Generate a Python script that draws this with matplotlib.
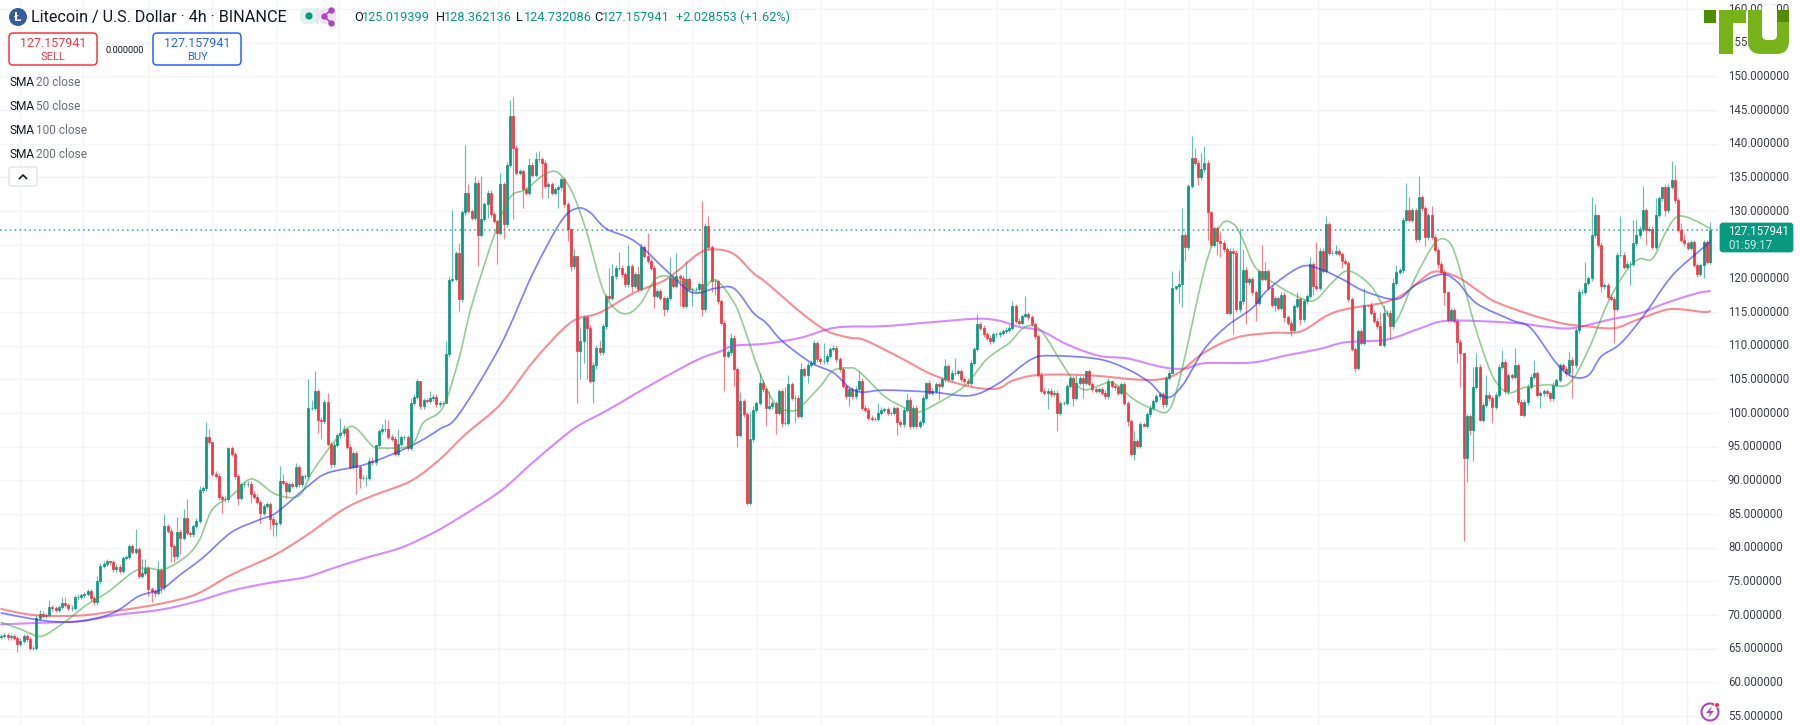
import matplotlib
matplotlib.use("Agg")
import matplotlib.pyplot as plt
from matplotlib.patches import Rectangle, FancyBboxPatch, Circle, Polygon, PathPatch
from matplotlib.path import Path

plt.rcParams['font.family'] = ['Roboto', 'DejaVu Sans']

CLOSE = [
66.9,67.0,66.7,66.9,66.6,65.7,66.2,66.9,66.4,65.1,
65.1,69.6,70.2,69.9,70.0,71.2,71.0,70.8,71.2,71.8,
71.5,71.0,71.1,72.6,72.7,72.9,73.1,73.5,72.5,71.9,
75.0,77.3,77.6,78.0,77.8,76.8,77.2,76.6,78.5,78.6,
80.2,79.4,79.8,75.8,76.3,77.0,73.8,73.5,73.3,76.7,
74.1,83.2,82.5,80.2,78.7,82.4,81.5,84.4,82.2,82.0,
83.2,84.0,88.5,88.8,96.5,95.7,91.0,90.7,87.5,87.3,
87.2,94.8,93.9,90.6,87.4,89.4,89.4,89.5,88.0,87.6,
86.8,85.2,86.2,86.5,84.3,83.5,83.7,89.9,89.6,88.4,
89.4,89.2,92.0,89.4,90.6,90.6,100.8,100.8,103.2,99.0,
98.8,101.7,95.4,92.4,95.3,96.7,97.0,97.6,95.0,92.0,
94.0,92.0,90.4,90.4,90.4,92.9,92.7,95.3,97.3,97.6,
97.6,96.5,96.2,93.9,95.4,96.4,96.4,94.8,101.5,102.4,
104.7,101.0,101.9,101.8,102.2,102.4,101.3,101.5,101.5,108.7,
119.8,119.9,123.8,116.9,129.8,132.7,130,129,134.2,126.5,
128.8,131,132.7,129.5,128.5,126.8,134,128,136.9,144.1,
139.4,135.7,135.9,133.2,132.7,136.9,135.4,137.7,137.7,137.2,
133.7,134,132.7,133.2,133.5,134.7,131,127.3,121.8,123.3,
109.2,110.7,114.2,112.7,104.8,107.2,109.7,109,112.9,117.4,
117.1,120.3,121.6,121.6,120.6,119.1,121.8,118.9,120.6,118.4,
124.6,123.3,122.6,121.6,117.4,118.1,117.1,115.4,117.1,120.1,
118.9,120.3,120.1,115.9,119.9,118.4,118.4,118.4,119.1,115.4,
127.8,124.6,119.6,119.6,116.6,113.4,108.5,109,111.2,106.5,
96.8,101.8,99.8,86.7,96.1,100.5,101.5,104.5,103.5,100.8,
101,101.5,100,103.2,98.5,98.5,104.3,102.3,102.3,99.6,
106.5,105.7,107.2,107.5,110.4,108,107.7,107.7,108.5,109.5,
109.7,108,106.5,104,102.5,103.5,102.5,103.6,104.8,100.8,
100.5,99.3,99.1,99.1,100,100.5,100.6,100,100,100.7,
98.6,98.3,100.5,102,98.1,100.8,98.1,98.6,102.3,104.5,
103,103.3,104.3,104,105,107,105,106,106,106.2,
105,104.8,104.5,107.5,109.5,113.2,112.7,111.7,111.2,110.7,
111.7,111.7,111.9,112.2,112.4,112.7,115.9,113.7,113.4,114.4,
114.7,114.2,113.2,111.4,105.7,103.3,103,103.3,102.8,103,
100,101.5,101.5,104,105.2,102.3,104.5,105.2,104.5,106.2,
104.3,103.5,103.3,103.5,103,102.5,104.8,104,103.8,103,
104.3,101.5,98.8,93.9,95.8,95.1,98.3,98.1,99.8,100.8,
101.8,102.5,102.8,101.3,105.2,106,118.6,118.9,119.1,126.5,
124.6,133.7,137.9,137.2,135,136.2,137.2,129.8,125,127.5,
125.5,125.3,124.3,114.9,124.1,123.8,115.4,116.6,121.3,119.4,
119.9,117.9,116.4,121.1,119.9,121.1,118.6,116.1,117.1,115.6,
117.6,114.2,113.4,112.4,115.9,116.9,113.9,116.6,117.4,122.1,
118.9,118.6,124.1,121.1,128,123.8,123.8,124.1,123.6,122.6,
122.3,116.9,109.5,106.7,112.2,110.4,116.1,116.1,114.9,113.7,
112.9,110.1,114.8,114.9,112.9,119.3,121,121.2,128.7,130.1,
128.7,130.1,125.8,132.1,130.4,126.1,129.4,126.2,124.2,122.2,
121,118,113.8,115.3,113.7,110.6,108.9,93.3,99.5,97.5,
103.9,106.9,99,101.2,102.7,102.2,100.9,102.7,106.9,107.6,
103.2,105.6,105.4,107.1,101.7,99.7,101.7,103.9,105.4,105.9,
102.7,102.9,103.2,102.9,102.2,104.2,104.9,107.1,106.6,105.9,
107.9,107.1,112.3,118,118,119.3,120,126.4,129.4,125,
118.8,119,117.3,117,115.5,123.5,123.5,121.7,122.2,122.2,
125.2,126.4,127.4,130.1,127.2,127.4,124.7,129.4,131.9,133.6,
130.1,133.6,134.6,131.6,127.2,125.7,125.2,124.5,125.4,122,
120.7,122,125.4,122.5,127.16]
FIRST_OPEN = 66.8

HIGHS = {12:70.8,15:72.3,19:72.6,20:72.6,23:73,27:73.8,28:73.8,30:75.8,31:77.7,33:78.3,34:78,38:78.8,40:80.5,
42:82.7,44:78.3,45:78.3,49:78,51:85,52:83.5,55:84.5,57:85.8,58:87.3,62:89.2,64:98.6,65:97.6,66:92,71:95,76:89.9,
87:92.1,88:90.9,92:92.6,96:105,97:102,98:106.2,102:103,106:99.3,107:98.2,115:93.4,116:93.4,117:93.9,119:98.3,
120:99.1,121:99,124:97.6,128:102.3,130:105,131:104.8,134:103.3,139:110.7,141:130.2,142:124,143:125.2,145:139.8,
146:134,148:135.2,150:135.2,156:135.7,159:146.5,160:147,165:137.9,167:138.7,168:138.9,178:127.3,179:124.3,
180:121.8,181:112.8,187:110.8,190:121.5,191:122.1,193:123.9,196:124.9,199:121.8,200:125.3,202:126.8,209:123.1,
211:123.8,214:122.6,219:131.5,221:129.2,228:111.9,231:103.1,234:100.1,235:101,237:106,240:103.2,245:103.8,
246:105.7,250:107.4,254:110.8,257:110.4,268:106.2,274:101.5,283:102.9,289:104.6,295:108,298:108.2,305:114.7,
316:116.6,320:117.4,334:105.4,336:105.7,339:106.2,347:104.7,354:97.3,358:100.1,366:121.1,367:117.9,368:121.3,
369:130.5,372:141.2,373:139.4,375:138.6,376:139.7,378:130,381:127.1,387:127.5,388:124.4,389:121.7,394:124.9,
395:122.5,405:118,409:123.2,411:125.4,414:129.3,417:124.9,426:118.5,427:115,431:115,432:116,435:120,436:122,
439:134.1,440:132.1,443:135.2,447:130.8,452:116.3,457:107.3,460:106.9,461:108.9,464:105.7,469:109.4,473:109.6,
479:107.9,490:109.1,495:122.5,497:132.1,498:131.1,499:129.6,506:129.2,510:128.6,511:128.8,513:133.7,517:131.9,
519:133.6,522:137.4,523:136.8,525:128.2,526:126.6,534:128.3}

LOWS = {5:64.5,47:72,48:72.6,46:72.8,50:73.3,53:77.8,54:77.8,56:79,69:85.2,74:86.4,78:86.7,81:83.7,84:82.7,85:81.7,
86:81.7,89:87.2,99:97,100:96.2,103:91.9,111:87.9,112:88.9,114:89.2,139:105.7,143:115.1,149:121.8,152:129,155:122.1,
157:125.8,160:128.8,163:130.5,169:132,171:132,174:130.5,177:125.5,178:121.1,180:101.5,181:105,182:107.5,183:105,
185:101.5,186:106.5,197:117.9,204:115.6,207:114.4,212:115.9,216:115.9,219:114.4,222:118,223:117.5,226:103.3,
229:104,230:94.9,239:98,242:96.9,244:97.9,248:98.6,252:104.4,265:101.1,269:100.5,272:98.8,280:96.8,284:97.6,
286:97.8,293:102,309:110.2,327:100.6,330:97.3,335:101,338:102.2,352:98,354:93,357:98,363:100.8,366:113,368:116.4,
369:115.8,370:122.6,374:133.9,377:125.7,380:123.5,381:123.2,383:114.9,385:111.7,389:113.2,392:113.7,398:115.1,
401:113.5,403:111.4,406:113,410:117.5,419:121.5,423:106.1,431:110.1,434:111,445:124.8,449:121.5,451:116,
455:107.4,456:103.9,457:81,458:89.8,459:96.8,460:92.8,462:98.8,466:98.5,474:101.2,475:99.7,477:101.2,481:100.7,
491:102.3,500:118,504:110.4,509:119,514:125,520:129.3,530:120.2,532:120}

SMA200_X = [0,10,25,36,50,61,72,83,95,104,114,125,135,143,156,166,176,181,189,198,208,218,225,229,239,250,261,276,291,
305,312,318,325,333,343,352,363,370,376,391,402,412,420,433,443,452,472,483,491,502,512,520,530,534]
SMA200_Y = [68.6,68.8,69.1,70,70.8,72,73.6,74.7,75.6,77,78.5,80,82.2,84.4,88.4,92.6,96.6,98.3,100.3,102.8,105.5,108,109.2,
110,110.3,111.2,112.7,112.9,113.5,114,113.7,112.8,112.2,110.2,108.5,108.1,106.8,106.6,107.4,107.5,108.6,109.5,110.5,
110.9,112.5,113.7,113.4,112.8,112.6,113.8,114.8,116.3,117.8,118.1]

SMA100_X = [0,10,24,36,50,61,72,85,95,107,116,128,137,145,156,166,175,180,187,198,208,218,223,229,235,239,250,258,265,
270,281,291,302,311,316,323,333,343,354,362,368,376,386,397,406,414,420,432,438,443,448,455,462,467,478,488,495,504,511,520,525,532,534]
SMA100_Y = [70.9,70,69.9,70.6,71.7,73.1,76,78.8,81.7,85.7,87.7,89.9,93.1,96.8,101.3,107.5,112.2,114,114.9,117.9,119.9,123.7,
124.3,123.6,120.8,119.4,114.9,112.2,111.2,110.8,108.2,105.7,104,103.6,104.8,105.6,105.7,105.5,105,105,106,109,111.2,111.9,
112.1,114.4,115.4,116.4,117.6,119.5,121,120.2,118,116.5,114.6,113.3,112.9,112.6,113.8,115.3,115.4,115,115.1]

SMA50_X = [0,10,17,25,35,43,50,56,63,72,81,86,96,102,114,128,137,143,156,166,175,180,184,189,198,208,216,223,229,235,239,244,
253,260,265,269,276,291,303,312,322,329,343,352,359,364,369,376,383,391,396,406,412,419,426,436,442,450,455,461,472,478,486,
491,496,500,506,513,522,531,534]
SMA50_Y = [70.3,69.4,69,69.1,70.3,72.8,73.8,76,78.5,82.3,84.2,85.2,89.2,91.1,92.4,95.1,97.6,99.8,110,120.6,128.5,130.4,129.8,
127.4,125.5,121.1,117.9,118.5,118.5,114.9,113.4,110.7,107.5,106,103.8,103.1,103.4,103.1,102.6,104.5,108,108.5,108,106.5,
104.5,102.3,104,109.5,112.9,115.6,118.4,121.7,121.4,119.9,118.1,116.9,119,120.6,119.5,116.3,113.8,112.6,107.4,105.4,105.6,
108.4,110.3,114.3,120.3,124.2,125.4]

SMA20_X = [0,6,11,14,20,27,33,41,45,51,58,62,66,72,77,80,86,93,97,103,108,111,116,119,128,132,138,143,147,154,159,164,169,173,
176,179,183,188,192,196,200,205,211,218,223,229,232,237,242,247,250,256,260,265,268,276,281,286,292,301,308,315,320,325,
332,338,347,354,360,365,369,376,381,385,388,392,399,407,411,416,421,428,433,436,442,448,452,455,460,464,467,471,476,483,
490,496,502,508,512,516,520,523,526,531,534]
SMA20_Y = [68.9,67.9,66.9,67.1,69,71.6,73.3,76.3,77,76.8,78.8,81.2,85.7,87.7,90,89.9,87.9,87.7,91.1,95.1,97.7,97.7,95.1,94.8,
95.2,98.6,100.8,108,115.9,126.3,132,133.2,135.2,135.9,134.7,132.2,126.8,118.4,115.4,114.8,116.4,120.1,119.9,117.9,119.8,
116.4,112.9,106,101.3,100.3,101,104,106.3,106.7,106.2,102.5,101.1,100.1,101.3,104,108,110.4,112.8,112.2,107,103.5,104.5,
102,100.6,100.5,106.5,121.3,127.8,128.1,125.8,121.6,118.9,116.9,116.9,119.4,121.1,118.9,114.9,113.7,120.2,125.2,125.6,
122.7,113.8,107.9,104.7,103,103.8,104.2,104.4,109.4,116.3,121.2,122.9,122.9,126.7,128.9,129.2,128.2,127.4]

PRICE_TICKS = list(range(55, 165, 5))
LAST_PRICE = 127.157941
GRID_BARS = [5.9,25.6,45.9,65.9,85.9,105.6,135.6,155.6,175.9,195.9,215.9,236.2,256.2,291.2,311.2,331.2,351.2,371.2,
391.2,411.5,446.5,466.8,486.2,506.5,526.8]
TITLE = "Litecoin / U.S. Dollar · 4h · BINANCE"
OHLC = [("O", "125.019399", 354), ("H", "128.362136", 436), ("L", "124.732086", 516), ("C", "127.157941", 594)]
CHANGE = "+2.028553 (+1.62%)"
SMA_LABELS = ["20 close", "50 close", "100 close", "200 close"]

UP, DOWN = "#089981", "#F23645"
W, H = 1800, 725
fig = plt.figure(figsize=(W/100, H/100), dpi=100, facecolor="white")

# main price pane: index -> px = 1.2 + 3.2 i, price -> py = 716 - (p-55)*6.733
ax = fig.add_axes([0, 0, 1718/W, 1])
ax.set_xlim(-0.375, 536.5)
ax.set_ylim(55 - 9/6.733, 55 + 716/6.733)
for s in ax.spines.values():
    s.set_visible(False)
ax.set_xticks(GRID_BARS)
ax.set_yticks(PRICE_TICKS)
ax.tick_params(axis="x", length=0, labelbottom=False)
ax.tick_params(axis="y", length=0, labelleft=False, labelright=False)
ax.grid(True, color="#f3f4f7", lw=1.0)
ax.set_axisbelow(True)

opens = [FIRST_OPEN] + CLOSE[:-1]
for i, (o, c) in enumerate(zip(opens, CLOSE)):
    col = UP if c >= o else DOWN
    top, bot = max(o, c), min(o, c)
    hi = max(HIGHS.get(i, top + 0.35), top)
    lo = min(LOWS.get(i, bot - 0.35), bot)
    ax.vlines(i, bot, hi, color=col, lw=0.85, alpha=0.62, zorder=2)
    ax.vlines(i, lo, top, color=col, lw=0.85, alpha=0.62, zorder=2)
    ax.bar(i, top - bot, width=0.62, bottom=bot, color=col, edgecolor=col, lw=0.5, zorder=3)


def smooth_line(axes, xs, ys, **kw):
    """Stroke a curve through the read values (Catmull-Rom handles on each span)."""
    pts = list(zip(xs, ys))
    verts, codes = [pts[0]], [Path.MOVETO]
    for k in range(len(pts) - 1):
        p0 = pts[max(k - 1, 0)]
        p1, p2 = pts[k], pts[k + 1]
        p3 = pts[min(k + 2, len(pts) - 1)]
        c1 = (p1[0] + (p2[0] - p0[0]) / 6, p1[1] + (p2[1] - p0[1]) / 6)
        c2 = (p2[0] - (p3[0] - p1[0]) / 6, p2[1] - (p3[1] - p1[1]) / 6)
        verts += [c1, c2, p2]
        codes += [Path.CURVE4] * 3
    axes.add_patch(PathPatch(Path(verts, codes), fc="none", capstyle="round", **kw))


smooth_line(ax, SMA200_X, SMA200_Y, ec="#b02cff", lw=1.5, alpha=0.55, zorder=4)
smooth_line(ax, SMA100_X, SMA100_Y, ec="#f5303f", lw=1.5, alpha=0.55, zorder=4)
smooth_line(ax, SMA50_X, SMA50_Y, ec="#2a2eff", lw=1.25, alpha=0.6, zorder=4)
smooth_line(ax, SMA20_X, SMA20_Y, ec="#3ea33e", lw=1.2, alpha=0.55, zorder=4)
ax.axhline(LAST_PRICE, color=UP, lw=1.1, ls=(0, (1, 2.2)), alpha=0.85, zorder=1.5)

# overlay in pixel coordinates
ov = fig.add_axes([0, 0, 1, 1], facecolor="none")
ov.set_xlim(0, W)
ov.set_ylim(H, 0)
ov.axis("off")


def py(p):
    return 716 - (p - 55) * 6.733


AXF = 8.3
for p in PRICE_TICKS:
    ov.text(1728, py(p), f"{p:.6f}", fontsize=AXF, color="#3c3f47", va="center", ha="left", zorder=2)

# current price tag
ov.add_patch(FancyBboxPatch((1721, 224), 71, 27, boxstyle="round,pad=0,rounding_size=2",
                            fc=UP, ec=UP, lw=2, zorder=3))
ov.text(1728, 231, f"{LAST_PRICE:.6f}", fontsize=AXF, color="white", va="center", zorder=4)
ov.text(1728, 245, "01:59:17", fontsize=AXF, color="#c5e8e2", va="center", zorder=4)

# header
ov.add_patch(Circle((18, 17), 9, fc="#345D9D", ec="none", zorder=3))
ov.text(18, 17, "Ł", fontsize=9.5, color="white", ha="center", va="center", weight="bold", zorder=4)
ov.text(31, 17, TITLE, fontsize=11.6, color="#131722", va="center", zorder=4)

ov.add_patch(FancyBboxPatch((300, 8), 17, 16, boxstyle="round,pad=0,rounding_size=6", fc="#dff2ee", ec="none", zorder=3))
ov.add_patch(FancyBboxPatch((319, 8), 17, 16, boxstyle="round,pad=0,rounding_size=6", fc="#f1e0f6", ec="none", zorder=3))
ov.add_patch(Rectangle((316, 8), 3, 16, fc="#e8e8f0", ec="none", zorder=3))
ov.add_patch(Circle((309, 16), 3.6, fc=UP, ec="none", zorder=4))
ov.plot([331, 324, 331], [10, 16, 23], color="#ab47bc", lw=1.2, zorder=4)
ov.plot([331, 324, 331], [10, 16, 23], ls="none", marker="o", ms=3.6, color="#ab47bc", zorder=4)

for k, v, x in OHLC:
    ov.text(x, 17, k, fontsize=9.2, color="#131722", va="center", zorder=4)
    ov.text(x + 8, 17, v, fontsize=9.2, color=UP, va="center", zorder=4)
ov.text(676, 17, CHANGE, fontsize=9.2, color=UP, va="center", zorder=4)

# sell / buy boxes
ov.add_patch(FancyBboxPatch((9, 33), 88, 32, boxstyle="round,pad=0,rounding_size=4", fc="white", ec=DOWN, lw=1.1, zorder=3))
ov.text(53, 43, "127.157941", fontsize=9, color=DOWN, ha="center", va="center", zorder=4)
ov.text(53, 57, "SELL", fontsize=8, color=DOWN, ha="center", va="center", zorder=4)
ov.text(125, 50, "0.000000", fontsize=6.7, color="#131722", ha="center", va="center", zorder=4)
ov.add_patch(FancyBboxPatch((153, 33), 88, 32, boxstyle="round,pad=0,rounding_size=4", fc="white", ec="#2962FF", lw=1.1, zorder=3))
ov.text(197, 43, "127.157941", fontsize=9, color="#2962FF", ha="center", va="center", zorder=4)
ov.text(197, 57, "BUY", fontsize=8, color="#2962FF", ha="center", va="center", zorder=4)

# indicator legend
for yy, lab in zip([82, 106, 130, 154], SMA_LABELS):
    ov.text(9, yy, "SMA", fontsize=8.6, color="#131722", va="center", zorder=4)
    ov.text(36, yy, lab, fontsize=8.6, color="#6a6d78", va="center", zorder=4)
ov.add_patch(FancyBboxPatch((9, 167), 28, 19, boxstyle="round,pad=0,rounding_size=2", fc="white", ec="#e0e3eb", lw=1, zorder=3))
ov.plot([19.5, 23, 26.5], [178.5, 175, 178.5], color="#131722", lw=1.2, zorder=4)

# lightning icon, bottom right
ov.add_patch(Circle((1710, 712), 8.5, fc="white", ec="#ab47bc", lw=1.5, zorder=3))
ov.add_patch(Polygon([(1712, 706), (1706, 713), (1710, 713), (1708, 718), (1714, 711), (1710, 711)], fc="#ab47bc", ec="none", zorder=4))
ov.add_patch(Circle((1717, 705), 2.4, fc=DOWN, ec="white", lw=0.5, zorder=5))

# site logo, on top of the axis labels
LG, LD = "#76B21A", "#4F8C00"
ov.add_patch(Rectangle((1704, 10), 12, 13, fc=LD, ec="none", zorder=6))
ov.add_patch(Rectangle((1719, 10), 27, 13, fc=LG, ec="none", zorder=6))
ov.add_patch(Rectangle((1719, 10), 14, 44, fc=LG, ec="none", zorder=6))
ov.add_patch(FancyBboxPatch((1748, 10), 41, 44, boxstyle="round,pad=0,rounding_size=13", fc=LG, ec="none", zorder=6))
ov.add_patch(Rectangle((1748, 10), 41, 14, fc=LG, ec="none", zorder=6))
ov.add_patch(FancyBboxPatch((1762, 4), 15, 36, boxstyle="round,pad=0,rounding_size=5", fc="white", ec="none", zorder=6.5))
ov.add_patch(Rectangle((1777, 10), 12, 12, fc=LD, ec="none", zorder=7))

fig.savefig("out.png", dpi=100)
